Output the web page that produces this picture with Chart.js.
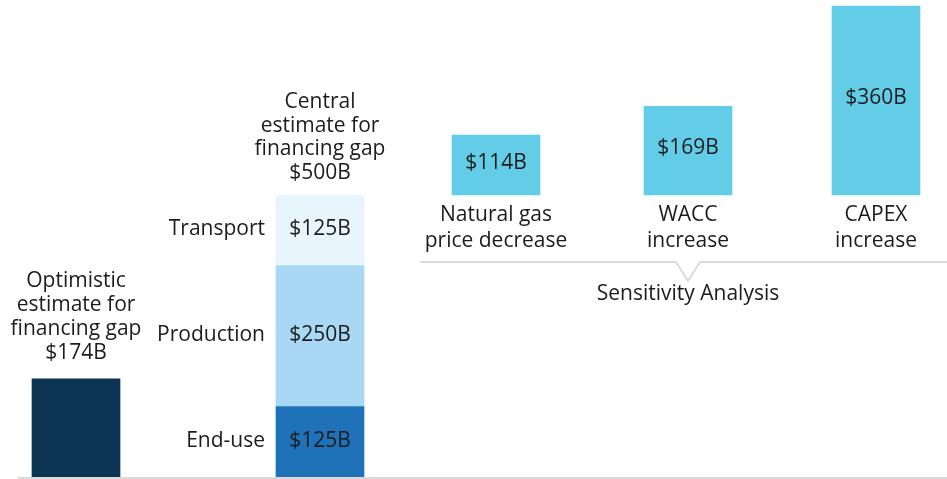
<!DOCTYPE html>
<html>
<head>
<meta charset="utf-8">
<script src="https://cdn.jsdelivr.net/npm/chart.js@4"></script>
<style>
html, body { margin: 0; padding: 0; background: #fff; }
#wrap { width: 947px; height: 479px; position: relative; }
</style>
</head>
<body>
<div id="wrap"><canvas id="myChart"></canvas></div>
<script>
// data
const optimisticTitle = ['Optimistic', 'estimate for', 'financing gap'];
const optimisticValue = 174;

const centralTitle = ['Central', 'estimate for', 'financing gap'];
const centralParts = ['End-use', 'Production', 'Transport'];
const centralValues = [125, 250, 125];

const sensCategories = [['Natural gas', 'price decrease'], ['WACC', 'increase'], ['CAPEX', 'increase']];
const sensValues = [114, 169, 360];
const sensTitle = 'Sensitivity Analysis';

// layout: where each bar sits on the 0..947 x axis
const slotOptimistic = 76;
const slotCentral = 320;
const slotSens = [496, 688, 876];

const navy = '#0b3352';
const centralColors = ['#1f72b8', '#a8d8f3', '#e8f5fc'];
const sensColor = '#63cde8';
const textColor = '#1c1c1c';
const lineColor = '#dadada';
const FONT = '21px "Open Sans"';

const fmt = v => '$' + v + 'B';

// stack the central parts as floating bars
let base = 0;
const centralSets = centralValues.map((v, i) => {
    const seg = [base, base + v];
    base += v;
    return {
        label: centralParts[i],
        data: [{ x: slotCentral, y: seg }],
        backgroundColor: centralColors[i],
        yAxisID: 'y'
    };
});
const centralTotal = base;

const datasets = [
    {
        label: 'Optimistic',
        data: [{ x: slotOptimistic, y: optimisticValue }],
        backgroundColor: navy,
        yAxisID: 'y'
    },
    ...centralSets,
    {
        label: 'Sensitivity',
        data: sensValues.map((v, i) => ({ x: slotSens[i], y: [0, v] })),
        backgroundColor: sensColor,
        yAxisID: 'ys'
    }
];
datasets.forEach(d => {
    d.grouped = false;
    d.barThickness = 88;
    d.borderWidth = 0;
});

function drawLines(ctx, lines, x, yLast, lh) {
    lines.forEach((t, i) => ctx.fillText(t, x, yLast - (lines.length - 1 - i) * lh));
}

const labelPlugin = {
    id: 'labelPlugin',
    afterDatasetsDraw(chart) {
        const ctx = chart.ctx;
        ctx.save();
        ctx.font = FONT;
        ctx.fillStyle = textColor;
        ctx.textAlign = 'center';
        ctx.textBaseline = 'middle';

        // optimistic
        const ob = chart.getDatasetMeta(0).data[0];
        drawLines(ctx, optimisticTitle.concat(fmt(optimisticValue)), ob.x, ob.y - 26, 24);

        // central
        const segs = centralSets.map((d, i) => chart.getDatasetMeta(i + 1).data[0]);
        const top = segs[segs.length - 1];
        drawLines(ctx, centralTitle.concat(fmt(centralTotal)), top.x, top.y - 22, 23.7);
        segs.forEach((s, i) => {
            const cy = (s.y + s.base) / 2 - 1;
            ctx.textAlign = 'center';
            ctx.fillText(fmt(centralValues[i]), s.x, cy);
            ctx.textAlign = 'right';
            ctx.fillText(centralParts[i], s.x - s.width / 2 - 11, cy);
        });
        ctx.textAlign = 'center';

        // sensitivity
        const sm = chart.getDatasetMeta(datasets.length - 1).data;
        sm.forEach((b, i) => {
            ctx.fillText(fmt(sensValues[i]), b.x, (b.y + b.base) / 2 - 2.5);
            sensCategories[i].forEach((t, j) => ctx.fillText(t, b.x, b.base + 20 + j * 26));
        });

        // bracket under the sensitivity group
        const by = sm[0].base + 67;
        const mid = sm[1].x;
        ctx.strokeStyle = lineColor;
        ctx.lineWidth = 2;
        ctx.lineJoin = 'round';
        ctx.beginPath();
        ctx.moveTo(sm[0].x - 76, by);
        ctx.lineTo(mid - 12, by);
        ctx.lineTo(mid, by + 19);
        ctx.lineTo(mid + 12, by);
        ctx.lineTo(chart.width, by);
        ctx.stroke();
        ctx.fillText(sensTitle, mid, by + 32);

        // baseline
        const y0 = chart.scales.y.getPixelForValue(0) + 1;
        ctx.beginPath();
        ctx.moveTo(18, y0);
        ctx.lineTo(chart.width, y0);
        ctx.stroke();
        ctx.restore();
    }
};

const ctx = document.getElementById('myChart').getContext('2d');
const myChart = new Chart(ctx, {
    type: 'bar',
    data: { datasets: datasets },
    options: {
        responsive: true,
        maintainAspectRatio: false,
        animation: false,
        layout: { padding: { left: 0, right: 0, top: 0, bottom: 2 } },
        plugins: {
            legend: { display: false },
            tooltip: { enabled: false }
        },
        scales: {
            x: { type: 'linear', min: 0, max: 947, offset: false, display: false },
            // 0 -> baseline, 500 -> top of the central bar
            y: { min: 0, max: 845.7, display: false },
            // sensitivity bars sit on their own scale, floating above the central bar top
            ys: { position: 'right', min: -537.1, max: 371.4, display: false }
        }
    },
    plugins: [labelPlugin]
});
</script>
</body>
</html>
